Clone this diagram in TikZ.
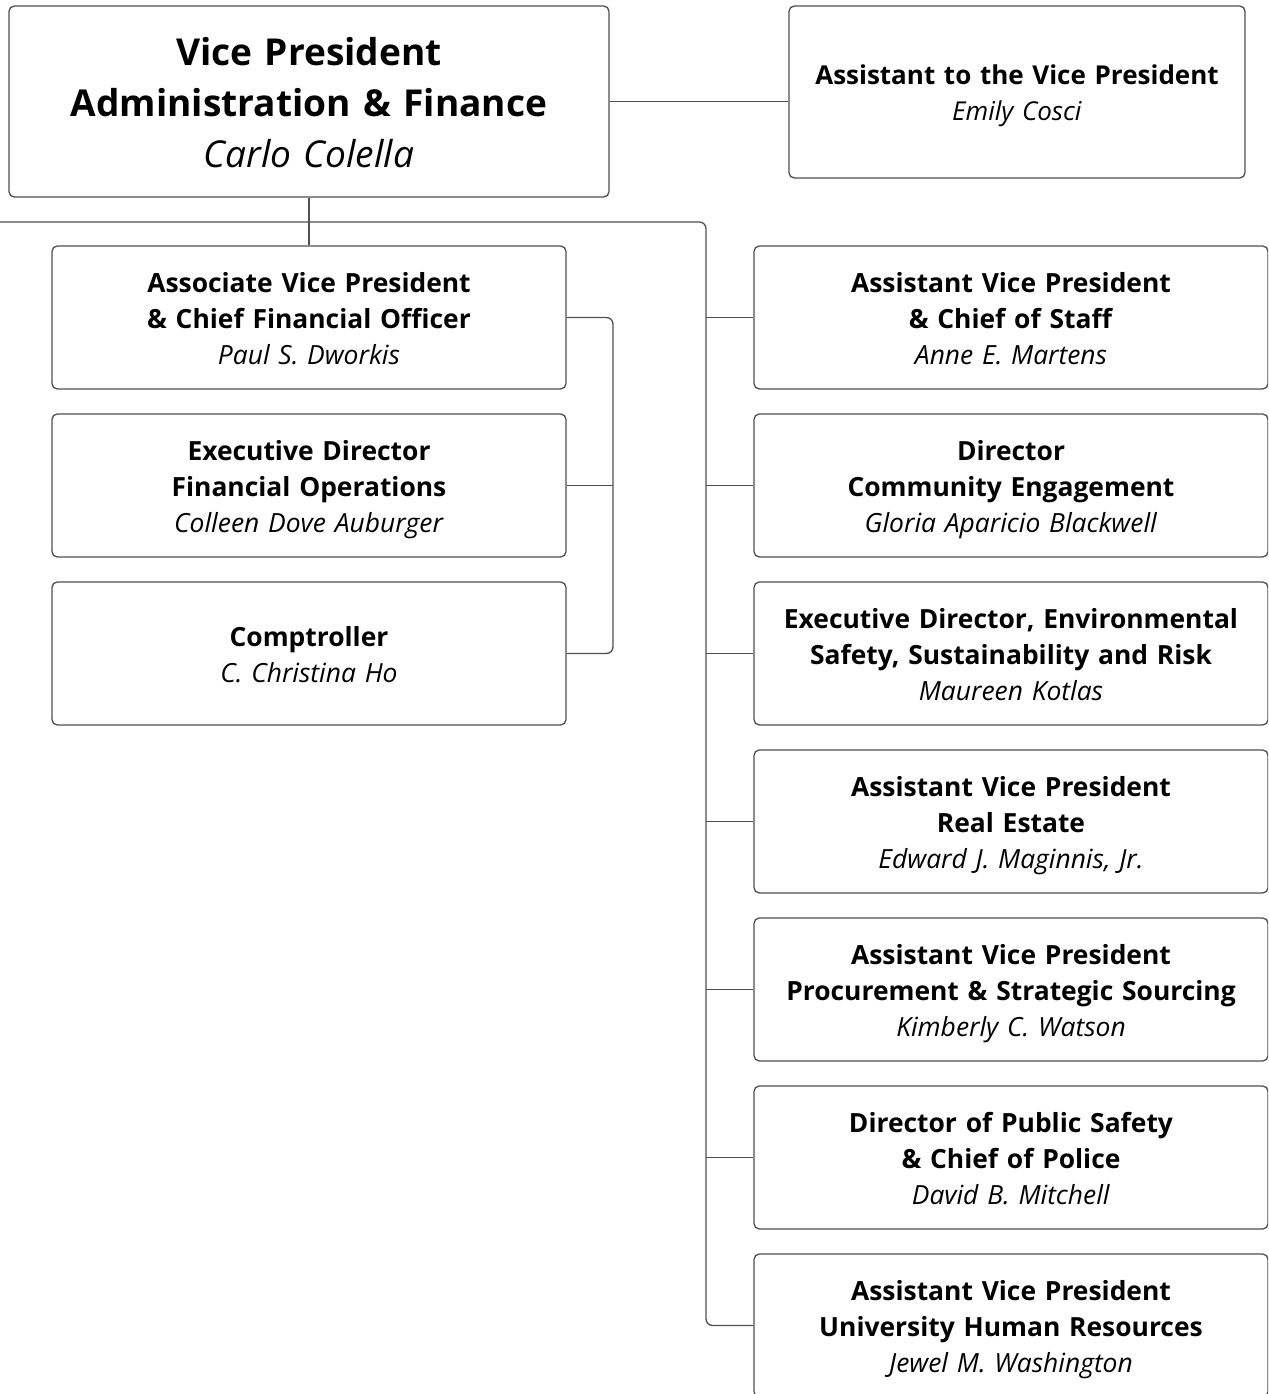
\documentclass[tikz,border=0pt]{standalone}
\usepackage{fontspec}
\setmainfont{Open Sans}
\usetikzlibrary{positioning}
\definecolor{linegray}{HTML}{505050}
\tikzset{
  orgbox/.style={draw=linegray, line width=1pt, rounded corners=4pt, align=center, inner sep=0pt,
    font=\fontsize{19.8}{27}\selectfont},
  staffbox/.style={orgbox, text width=385.5pt, minimum height=107.25pt},
  link/.style={draw=linegray, line width=1pt}
}
\newcommand{\unitpost}[2]{\rule{0pt}{0.9\baselineskip}\textbf{#1}\\\textit{#2}\strut}
\begin{document}
\begin{tikzpicture}[x=0.75pt, y=-0.75pt]
\useasboundingbox (0,0) rectangle (1268,1394);
\clip (0,0) rectangle (1268,1394);

\node [orgbox, text width=450pt, minimum height=143.25pt, font=\fontsize{27.8}{38.25}\selectfont] (vp) at (309,101.5) {\unitpost{Vice President\\Administration \& Finance}{Carlo Colella}};
\node [orgbox, text width=342pt, minimum height=129pt, font=\fontsize{19.5}{27}\selectfont] (asst) at (1017,92) {\unitpost{Assistant to the Vice President}{Emily Cosci}};

\node [staffbox] (cfo) at (309,317.5) {\unitpost{Associate Vice President\\\& Chief Financial Officer}{Paul S. Dworkis}};
\node [staffbox] (finops) at (309,485.5) {\unitpost{Executive Director\\Financial Operations}{Colleen Dove Auburger}};
\node [staffbox] (comp) at (309,653.5) {\unitpost{Comptroller}{C. Christina Ho}};

\node [staffbox] (cos) at (1011,317.5) {\unitpost{Assistant Vice President\\\& Chief of Staff}{Anne E. Martens}};
\node [staffbox] (comm) at (1011,485.5) {\unitpost{Director\\Community Engagement}{Gloria Aparicio Blackwell}};
\node [staffbox] (ehs) at (1011,653.5) {\unitpost{Executive Director, Environmental\\Safety, Sustainability and Risk}{Maureen Kotlas}};
\node [staffbox] (estate) at (1011,821.5) {\unitpost{Assistant Vice President\\Real Estate}{Edward J. Maginnis, Jr.}};
\node [staffbox] (proc) at (1011,989.5) {\unitpost{Assistant Vice President\\Procurement \& Strategic Sourcing}{Kimberly C. Watson}};
\node [staffbox] (police) at (1011,1157.5) {\unitpost{Director of Public Safety\\\& Chief of Police}{David B. Mitchell}};
\node [staffbox] (hr) at (1011,1325.5) {\unitpost{Assistant Vice President\\University Human Resources}{Jewel M. Washington}};

\coordinate (trunk) at (706,222);
\coordinate (lend) at (0,222);
\coordinate (lbus) at (613,222);

\draw [link] (vp.east) -- (vp.east -| asst.west);
\draw [link] (vp.south) -- (cfo.north);
\draw [link, rounded corners=5pt] (lend) -- (trunk) -- (trunk |- hr.west) -- (hr.west);
\foreach \n in {cos,comm,ehs,estate,proc,police}
  \draw [link] (trunk |- \n.west) -- (\n.west);
\draw [link, rounded corners=5pt] (cfo.east) -- (cfo.east -| lbus) -- (comp.east -| lbus) -- (comp.east);
\draw [link] (finops.east) -- (finops.east -| lbus);
\end{tikzpicture}
\end{document}
